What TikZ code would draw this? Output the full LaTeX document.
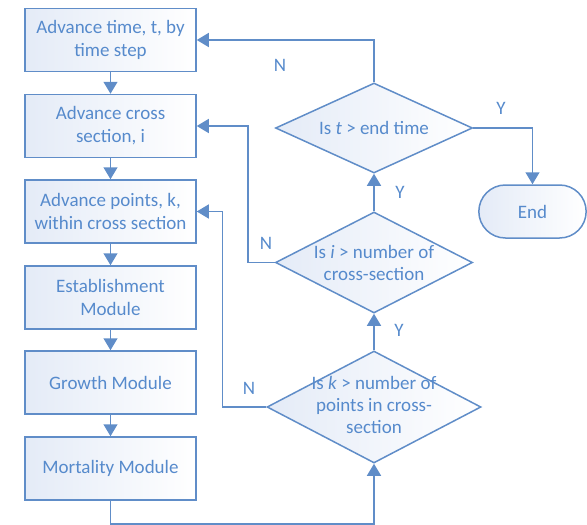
\documentclass[tikz,border=0pt]{standalone}
\usepackage{fontspec}
\setmainfont{Carlito}
\usetikzlibrary{arrows.meta,shapes.geometric,shapes.misc,calc}
\definecolor{lineblue}{RGB}{96,141,200}
\definecolor{textblue}{RGB}{86,138,204}
\definecolor{fillblue}{RGB}{228,235,247}
\tikzset{
  box/.style={draw=lineblue, line width=1.5pt, rectangle, minimum width=171pt, minimum height=63pt,
    left color=fillblue, right color=white, text=textblue, align=center,
    font=\fontsize{19}{23}\selectfont, inner sep=2pt},
  dia/.style={draw=lineblue, line width=1.5pt, diamond, inner sep=0pt,
    left color=fillblue, right color=white},
  diatext/.style={text=textblue, align=center, font=\fontsize{19}{22}\selectfont},
  term/.style={draw=lineblue, line width=1.5pt, rounded rectangle, minimum width=114pt, minimum height=53pt,
    left color=fillblue, right color=white, text=textblue, font=\fontsize{19}{23}\selectfont},
  conn/.style={draw=lineblue, line width=1.5pt, -{Triangle[width=14pt,length=12pt]}},
  lbl/.style={text=textblue, font=\fontsize{19}{23}\selectfont},
}
\begin{document}
\begin{tikzpicture}[x=1pt,y=-1pt]
\useasboundingbox (0,0) rectangle (587,525);
\node[box] (b1) at (110.5,40) {Advance time, t, by\\time step};
\node[box] (b2) at (110.5,126) {Advance cross\\section, i};
\node[box] (b3) at (110.5,211.5) {Advance points, k,\\within cross section};
\node[box] (b4) at (110.5,297.5) {Establishment\\Module};
\node[box] (b5) at (110.5,382.5) {Growth Module};
\node[box] (b6) at (110.5,468.5) {Mortality Module};

\node[dia, minimum width=197pt, minimum height=90pt, aspect=2.19] (d1) at (374,128) {};
\node[dia, minimum width=197pt, minimum height=101pt, aspect=1.95] (d2) at (374,262.5) {};
\node[dia, minimum width=214pt, minimum height=112pt, aspect=1.91] (d3) at (374,407) {};
\node[diatext] (t1) at (d1.center) {Is \textit{t} > end time};
\node[diatext] (t2) at (d2.center) {Is \textit{i} > number of\\cross-section};
\node[diatext] (t3) at ($(d3.center)+(0,-2)$) {Is \textit{k} > number of\\points in cross-\\section};

\node[term] (end) at (532.5,211.5) {End};

\draw[conn] (b1) -- (b2);
\draw[conn] (b2) -- (b3);
\draw[conn] (b3) -- (b4);
\draw[conn] (b4) -- (b5);
\draw[conn] (b5) -- (b6);

\draw[conn] (d1.north) |- (b1.east);
\draw[conn] (d1.east) -| (end.north);
\draw[conn] (d2.north) -- (d1.south);
\draw[conn] (d3.north) -- (d2.south);
\draw[conn] (d2.west) -- ++(-27,0) |- (b2.east);
\draw[conn] (d3.west) -- ++(-44,0) |- (b3.east);
\draw[conn] (b6.south) -- ++(0,23) -| (d3.south);

\node[lbl] (n1) at (280,65) {N};
\node[lbl] (y1) at (501,108) {Y};
\node[lbl] (y2) at (400,192) {Y};
\node[lbl] (n2) at (266,243) {N};
\node[lbl] (y3) at (399,330) {Y};
\node[lbl] (n3) at (249,388) {N};
\end{tikzpicture}
\end{document}
